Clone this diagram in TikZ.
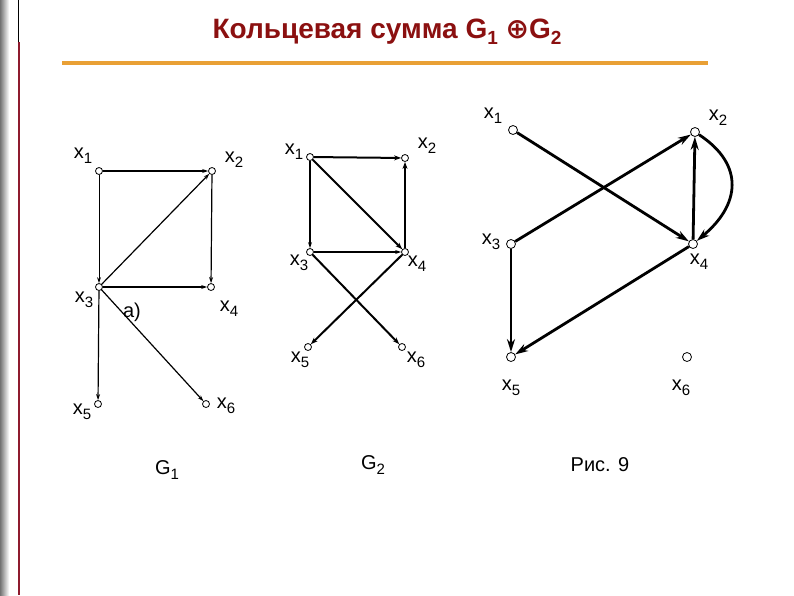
\documentclass[tikz,border=0pt]{standalone}
\usepackage{fontspec}
\setmainfont{Liberation Sans}
\newfontfamily\symbfont{DejaVu Sans}
\usetikzlibrary{arrows.meta}

\definecolor{titlered}{HTML}{8B1010}
\definecolor{barorange}{HTML}{E9A035}
\definecolor{edgered}{HTML}{8E1B2E}

\newcommand{\subs}[1]{\raisebox{-5pt}{\fontsize{15}{15}\selectfont #1}}
\newcommand{\xv}[1]{x\subs{#1}}

\tikzset{
    vertex/.style={shape=circle, draw=black, fill=white, inner sep=0pt, minimum size=7pt, line width=0.8pt},
    lab/.style={inner sep=0pt, font=\fontsize{20}{24}\selectfont},
    thin arc/.style={line width=1.2pt, -{Stealth[length=6pt,width=4pt]}},
    mid arc/.style={line width=2pt, -{Stealth[length=7pt,width=5pt]}},
    thick arc/.style={line width=2.8pt, -{Stealth[length=13pt,width=8pt]}}
}

\begin{document}
\begin{tikzpicture}[x=1pt,y=-1pt]
    \useasboundingbox (0,0) rectangle (794,595);
    \fill[white] (0,0) rectangle (794,595);
    \shade[left color=black!55, right color=white] (0,0) rectangle (9,595);
    \draw[edgered, line width=2pt] (18.5,42) -- (18.5,595);
    \draw[black, line width=0.6pt] (18.5,0) -- (18.5,42);

    % title
    \node[font=\bfseries\fontsize{28}{32}\selectfont, text=titlered, anchor=base] (title) at (387,38)
        {Кольцевая сумма G\raisebox{-6pt}{\fontsize{19}{19}\selectfont 1} {\symbfont\bfseries ⊕}G\raisebox{-6pt}{\fontsize{19}{19}\selectfont 2}};
    \draw[barorange, line width=4pt] (62,63) -- (708,63);

    % G1
    \node[vertex] (a1) at (99,171) {};
    \node[vertex] (a2) at (212,171) {};
    \node[vertex] (a3) at (99,287) {};
    \node[vertex] (a4) at (211,287) {};
    \node[vertex] (a5) at (98,404) {};
    \node[vertex] (a6) at (206,404) {};

    \node[lab] (la1) at (83,156) {\xv{1}};
    \node[lab] (la2) at (234,160) {\xv{2}};
    \node[lab] (la3) at (84,300) {\xv{3}};
    \node[lab] (la4) at (229,309) {\xv{4}};
    \node[lab] (la5) at (82,412) {\xv{5}};
    \node[lab] (la6) at (226,406) {\xv{6}};
    \node[lab] (lbla) at (132,312) {a)};

    \path [thin arc] (a1) edge (a2);
    \path [thin arc, line width=0.9pt] (a1) edge (a3);
    \path [thin arc] (a2) edge (a4);
    \path [thin arc] (a3) edge (a2);
    \path [thin arc] (a3) edge (a4);
    \path [thin arc] (a3) edge (a5);
    \path [thin arc] (a3) edge (a6);

    % G2
    \node[vertex] (b1) at (310,157) {};
    \node[vertex] (b2) at (405,158) {};
    \node[vertex] (b3) at (310,252) {};
    \node[vertex] (b4) at (405,252) {};
    \node[vertex] (b5) at (308,347) {};
    \node[vertex] (b6) at (402,347) {};

    \node[lab] (lb1) at (294,152) {\xv{1}};
    \node[lab] (lb2) at (427,146) {\xv{2}};
    \node[lab] (lb3) at (299,263) {\xv{3}};
    \node[lab] (lb4) at (417,264) {\xv{4}};
    \node[lab] (lb5) at (300,360) {\xv{5}};
    \node[lab] (lb6) at (416,360) {\xv{6}};

    \path [mid arc] (b1) edge (b2);
    \path [thin arc] (b1) edge (b3);
    \path [mid arc] (b1) edge (b4);
    \path [thin arc] (b3) edge (b4);
    \path [mid arc] (b4) edge (b2);
    \path [mid arc] (b3) edge (b6);
    \path [mid arc] (b4) edge (b5);

    % G1 (+) G2
    \node[vertex, minimum size=9pt] (c1) at (513,130) {};
    \node[vertex, minimum size=9pt] (c2) at (695,132) {};
    \node[vertex, minimum size=9pt] (c3) at (511,244) {};
    \node[vertex, minimum size=9pt] (c4) at (693,244) {};
    \node[vertex, minimum size=9pt] (c5) at (511,357) {};
    \node[vertex, minimum size=9pt] (c6) at (687,357) {};

    \node[lab] (lc1) at (493,116) {\xv{1}};
    \node[lab] (lc2) at (718,118) {\xv{2}};
    \node[lab] (lc3) at (491,242) {\xv{3}};
    \node[lab] (lc4) at (699,262) {\xv{4}};
    \node[lab] (lc5) at (511,388) {\xv{5}};
    \node[lab] (lc6) at (681,388) {\xv{6}};

    \path [thick arc] (c1) edge (c4);
    \path [thick arc] (c3) edge (c2);
    \path [thick arc] (c4) edge (c2);
    \draw [thick arc] (c2) .. controls (745,165) and (740,205) .. (c4);
    \path [thick arc] (c3) edge (c5);
    \path [thick arc] (c4) edge (c5);

    % captions
    \node[lab] (g1) at (167,470) {G\subs{1}};
    \node[lab] (g2) at (373,465) {G\subs{2}};
    \node[lab] (fig) at (600,465) {Рис. 9};
\end{tikzpicture}
\end{document}
